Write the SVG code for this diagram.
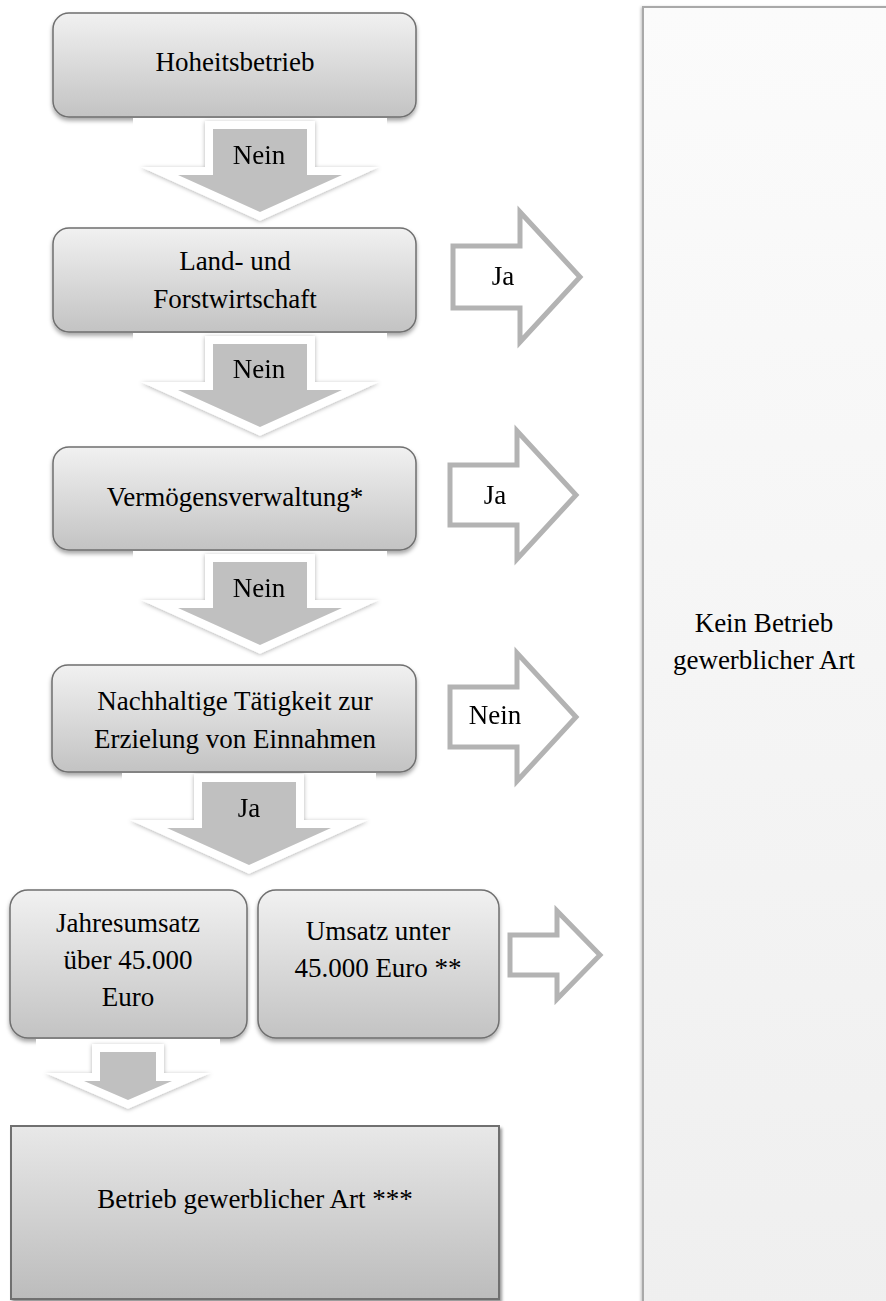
<svg xmlns="http://www.w3.org/2000/svg" xmlns:xlink="http://www.w3.org/1999/xlink" width="886" height="1301" viewBox="0 0 886 1301">
<style>
text{font-family:'Liberation Serif','Times New Roman',serif;font-size:27px;fill:#000;text-anchor:middle}
.box{fill:url(#gBox);stroke:#6f6f6f;stroke-width:1.5}
.ra{fill:#fff;stroke:#b3b3b3;stroke-width:5;stroke-linejoin:miter;stroke-miterlimit:10}
.da{fill:#c0c0c0;stroke:#fff;stroke-width:16;paint-order:stroke;stroke-linejoin:miter;stroke-miterlimit:8}
</style>
<defs>
<linearGradient id="gBox" x1="0" y1="0" x2="0" y2="1">
<stop offset="0" stop-color="#f1f1f1"/><stop offset="1" stop-color="#c3c3c3"/>
</linearGradient>
<linearGradient id="gBig" x1="0" y1="0" x2="0" y2="1">
<stop offset="0" stop-color="#e8e8e8"/><stop offset="1" stop-color="#bcbcbc"/>
</linearGradient>
<linearGradient id="gPanel" x1="0" y1="0" x2="0" y2="1">
<stop offset="0" stop-color="#fbfbfb"/><stop offset="1" stop-color="#efefef"/>
</linearGradient>
<filter id="sh" x="-10%" y="-10%" width="120%" height="130%">
<feDropShadow dx="0" dy="3" stdDeviation="2" flood-color="#000" flood-opacity="0.35"/>
</filter>
<filter id="sh2" x="-10%" y="-10%" width="120%" height="130%">
<feDropShadow dx="2" dy="3" stdDeviation="1.5" flood-color="#000" flood-opacity="0.4"/>
</filter>
<filter id="shA" x="-20%" y="-20%" width="140%" height="140%">
<feDropShadow dx="0" dy="1" stdDeviation="2" flood-color="#000" flood-opacity="0.3"/>
</filter>
<filter id="shP" x="-5%" y="-5%" width="110%" height="110%">
<feDropShadow dx="-1" dy="1" stdDeviation="1.5" flood-color="#000" flood-opacity="0.25"/>
</filter>
<polygon id="arrA" class="da" points="-47,-83 47,-83 47,-37 82,-37 0,0 -82,-37 -47,-37"/>
<polygon id="arrB" class="da" points="-28,-48 28,-48 28,-19 44,-19 0,0 -44,-19 -28,-19"/>
</defs>

<g id="panel">
<rect x="643" y="7" width="262" height="1310" fill="url(#gPanel)" stroke="#a9a9a9" stroke-width="2" filter="url(#shP)"/>
<text x="764" y="632">Kein Betrieb</text>
<text x="764" y="669">gewerblicher Art</text>
</g>

<g id="n1"><rect class="box" x="53" y="13" width="363" height="104" rx="16" filter="url(#sh)"/>
<text x="235" y="71">Hoheitsbetrieb</text></g>

<g id="n2"><rect class="box" x="53" y="228" width="363" height="104" rx="16" filter="url(#sh)"/>
<text x="235" y="270">Land- und</text>
<text x="235" y="308">Forstwirtschaft</text></g>

<g id="n3"><rect class="box" x="53" y="447" width="363" height="103" rx="16" filter="url(#sh)"/>
<text x="235" y="506">Vermögensverwaltung*</text></g>

<g id="n4"><rect class="box" x="52" y="665" width="364" height="107" rx="16" filter="url(#sh)"/>
<text x="235" y="710">Nachhaltige Tätigkeit zur</text>
<text x="235" y="748">Erzielung von Einnahmen</text></g>

<g id="n5a"><rect class="box" x="10" y="890" width="237" height="148" rx="18" filter="url(#sh)"/>
<text x="128" y="932">Jahresumsatz</text>
<text x="128" y="969">über 45.000</text>
<text x="128" y="1006">Euro</text></g>

<g id="n5b"><rect class="box" x="258" y="890" width="241" height="148" rx="18" filter="url(#sh)"/>
<text x="378" y="940">Umsatz unter</text>
<text x="378" y="977">45.000 Euro **</text></g>

<g id="n6"><rect x="11" y="1126" width="488" height="173" fill="url(#gBig)" stroke="#6f6f6f" stroke-width="2" filter="url(#sh2)"/>
<text x="255" y="1208">Betrieb gewerblicher Art ***</text></g>

<g id="connectors">
<rect x="133" y="118" width="254" height="10" fill="#fff"/>
<rect x="133" y="333" width="254" height="10" fill="#fff"/>
<rect x="133" y="551" width="254" height="10" fill="#fff"/>
<rect x="122" y="773" width="254" height="10" fill="#fff"/>
<rect x="36" y="1039" width="184" height="8" fill="#fff"/>
<g filter="url(#shA)">
<use xlink:href="#arrA" transform="translate(260,212)"/>
<use xlink:href="#arrA" transform="translate(260,427)"/>
<use xlink:href="#arrA" transform="translate(260,645)"/>
<use xlink:href="#arrA" transform="translate(249,865)"/>
<use xlink:href="#arrB" transform="translate(128,1100)"/>
</g>
<text x="259" y="164">Nein</text>
<text x="259" y="378">Nein</text>
<text x="259" y="597">Nein</text>
<text x="249" y="817">Ja</text>
<polygon class="ra" points="453,246 520,246 520,212 580,277 520,342 520,308 453,308"/>
<polygon class="ra" points="450,465 517,465 517,431 576,495 517,559 517,525 450,525"/>
<polygon class="ra" points="450,687 517,687 517,653 576,717 517,781 517,747 450,747"/>
<polygon class="ra" points="510,935 557,935 557,911 600,955 557,999 557,975 510,975"/>
<text x="503" y="285">Ja</text>
<text x="495" y="504">Ja</text>
<text x="495" y="724">Nein</text>
</g>
</svg>
